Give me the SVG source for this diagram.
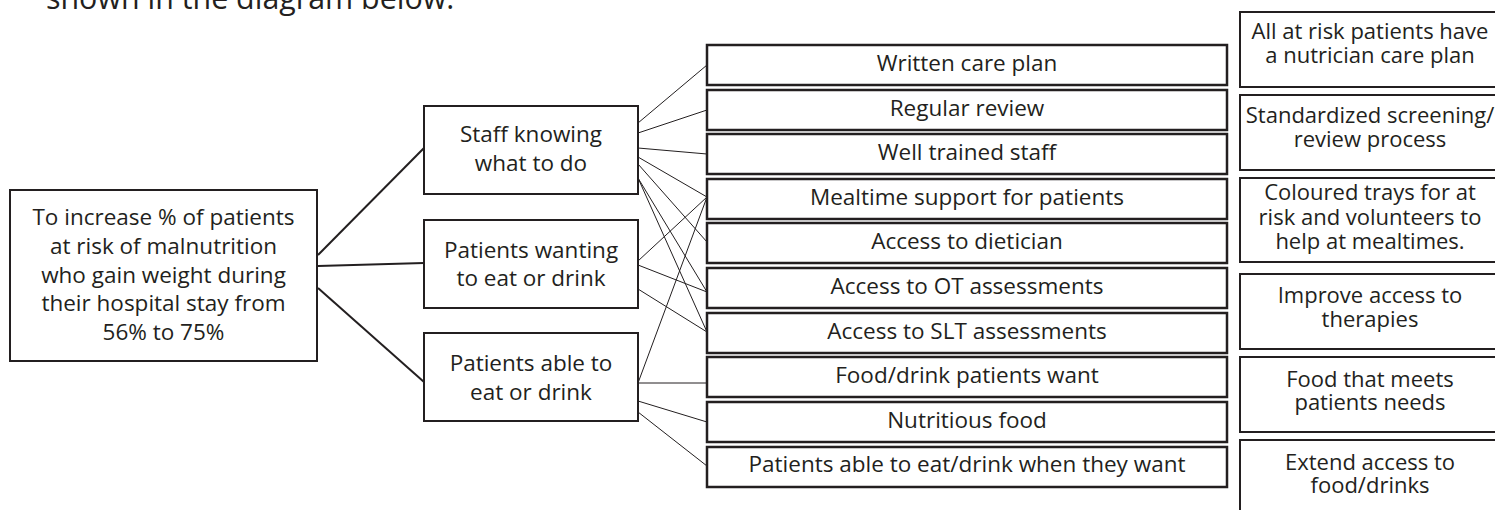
<svg xmlns="http://www.w3.org/2000/svg" width="1495" height="510" viewBox="0 0 1495 510">
  <style>
    text { font-family: "Open Sans", "Noto Sans", "Liberation Sans", sans-serif; fill: #231f20; text-anchor: middle; }
    .t { font-size: 22.5px; }
    .r { font-size: 22px; }
    .box { fill: #ffffff; stroke: #231f20; stroke-width: 2; }
    .box3 { fill: #ffffff; stroke: #231f20; stroke-width: 2.5; }
    .thin { stroke: #231f20; stroke-width: 1; fill: none; }
    .thick { stroke: #231f20; stroke-width: 2; fill: none; }
  </style>
  <rect x="0" y="0" width="1495" height="510" fill="#ffffff"/>
  <text x="46" y="9" style="font-size:30.4px;text-anchor:start">shown in the diagram below.</text>

  <g id="connectors">
    <line class="thick" x1="318" y1="255" x2="424" y2="148"/>
    <line class="thick" x1="318" y1="266" x2="424" y2="263"/>
    <line class="thick" x1="318" y1="288" x2="424" y2="382"/>

    <line class="thin" x1="638" y1="123" x2="707" y2="65"/>
    <line class="thin" x1="638" y1="133" x2="707" y2="110"/>
    <line class="thin" x1="638" y1="148" x2="707" y2="154"/>
    <line class="thin" x1="638" y1="157" x2="707" y2="197"/>
    <line class="thin" x1="638" y1="164" x2="707" y2="242"/>
    <line class="thin" x1="638" y1="178" x2="707" y2="292"/>
    <line class="thin" x1="638" y1="178" x2="707" y2="332"/>

    <line class="thin" x1="638" y1="261" x2="707" y2="197"/>
    <line class="thin" x1="638" y1="265" x2="707" y2="292"/>
    <line class="thin" x1="638" y1="289" x2="707" y2="332"/>

    <line class="thin" x1="638" y1="383" x2="707" y2="197"/>
    <line class="thin" x1="638" y1="383" x2="707" y2="383"/>
    <line class="thin" x1="638" y1="401" x2="707" y2="422"/>
    <line class="thin" x1="638" y1="412" x2="707" y2="466"/>
  </g>

  <g id="goal">
    <rect class="box" x="10" y="190" width="307" height="171"/>
    <text class="t" x="163.5" y="225">To increase % of patients</text>
    <text class="t" x="163.5" y="254">at risk of malnutrition</text>
    <text class="t" x="163.5" y="282.5">who gain weight during</text>
    <text class="t" x="163.5" y="311">their hospital stay from</text>
    <text class="t" x="163.5" y="340">56% to 75%</text>
  </g>

  <g id="staff-knowing">
    <rect class="box" x="424" y="106" width="214" height="88"/>
    <text class="t" x="531" y="142">Staff knowing</text>
    <text class="t" x="531" y="170.5">what to do</text>
  </g>
  <g id="patients-wanting">
    <rect class="box" x="424" y="220" width="214" height="88"/>
    <text class="t" x="531" y="257.5">Patients wanting</text>
    <text class="t" x="531" y="286">to eat or drink</text>
  </g>
  <g id="patients-able">
    <rect class="box" x="424" y="333" width="214" height="88"/>
    <text class="t" x="531" y="371">Patients able to</text>
    <text class="t" x="531" y="399.5">eat or drink</text>
  </g>

  <g id="written-care-plan">
    <rect class="box3" x="707" y="45" width="520" height="40"/>
    <text class="t" x="967" y="71">Written care plan</text>
  </g>
  <g id="regular-review">
    <rect class="box3" x="707" y="90" width="520" height="40"/>
    <text class="t" x="967" y="116">Regular review</text>
  </g>
  <g id="well-trained-staff">
    <rect class="box3" x="707" y="134" width="520" height="40"/>
    <text class="t" x="967" y="160">Well trained staff</text>
  </g>
  <g id="mealtime-support">
    <rect class="box3" x="707" y="179" width="520" height="40"/>
    <text class="t" x="967" y="205">Mealtime support for patients</text>
  </g>
  <g id="access-dietician">
    <rect class="box3" x="707" y="223" width="520" height="40"/>
    <text class="t" x="967" y="249">Access to dietician</text>
  </g>
  <g id="access-ot">
    <rect class="box3" x="707" y="268" width="520" height="40"/>
    <text class="t" x="967" y="294">Access to OT assessments</text>
  </g>
  <g id="access-slt">
    <rect class="box3" x="707" y="313" width="520" height="40"/>
    <text class="t" x="967" y="339">Access to SLT assessments</text>
  </g>
  <g id="food-drink-want">
    <rect class="box3" x="707" y="357" width="520" height="40"/>
    <text class="t" x="967" y="383">Food/drink patients want</text>
  </g>
  <g id="nutritious-food">
    <rect class="box3" x="707" y="402" width="520" height="40"/>
    <text class="t" x="967" y="428">Nutritious food</text>
  </g>
  <g id="eat-when-want">
    <rect class="box3" x="707" y="447" width="520" height="40"/>
    <text class="t" x="967" y="472">Patients able to eat/drink when they want</text>
  </g>

  <g id="idea-care-plan">
    <rect class="box" x="1240" y="12" width="262" height="75"/>
    <text class="r" x="1370" y="39">All at risk patients have</text>
    <text class="r" x="1370" y="63">a nutrician care plan</text>
  </g>
  <g id="idea-screening">
    <rect class="box" x="1240" y="95" width="262" height="75"/>
    <text class="r" x="1370" y="123">Standardized screening/</text>
    <text class="r" x="1370" y="147">review process</text>
  </g>
  <g id="idea-trays">
    <rect class="box" x="1240" y="178" width="262" height="84"/>
    <text class="r" x="1370" y="200">Coloured trays for at</text>
    <text class="r" x="1370" y="225">risk and volunteers to</text>
    <text class="r" x="1370" y="249">help at mealtimes.</text>
  </g>
  <g id="idea-therapies">
    <rect class="box" x="1240" y="274" width="262" height="75"/>
    <text class="r" x="1370" y="303">Improve access to</text>
    <text class="r" x="1370" y="327">therapies</text>
  </g>
  <g id="idea-food-needs">
    <rect class="box" x="1240" y="357" width="262" height="75"/>
    <text class="r" x="1370" y="387">Food that meets</text>
    <text class="r" x="1370" y="410">patients needs</text>
  </g>
  <g id="idea-extend-access">
    <rect class="box" x="1240" y="440" width="262" height="80"/>
    <text class="r" x="1370" y="470">Extend access to</text>
    <text class="r" x="1370" y="493">food/drinks</text>
  </g>
</svg>
